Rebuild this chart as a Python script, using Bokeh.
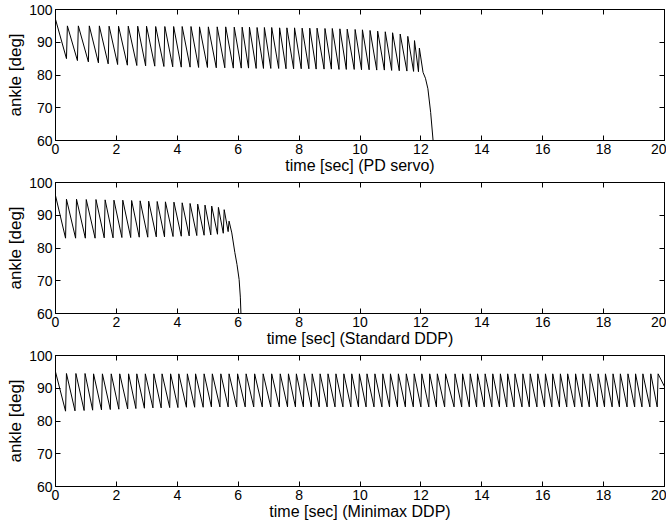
from bokeh.plotting import figure
from bokeh.models import LinearAxis, Range1d, FixedTicker
from bokeh.layouts import column
from bokeh.embed import file_html
from bokeh.resources import INLINE

# ---------------- data ----------------
X_TICKS = [0, 2, 4, 6, 8, 10, 12, 14, 16, 18, 20]
Y_TICKS = [60, 70, 80, 90, 100]
RISE = 0.03  # duration of the quick upward stroke of each cycle [sec]

# Panel 1: PD servo
P1_START_Y = 97.0
P1_TROUGH_T = [0.36, 0.72, 1.08, 1.41, 1.73, 2.04, 2.36, 2.67, 2.96, 3.26,
               3.56, 3.85, 4.13, 4.42, 4.70, 4.99, 5.28, 5.56, 5.84, 6.10,
               6.34, 6.59, 6.83, 7.07, 7.33, 7.57, 7.82, 8.07, 8.32, 8.56,
               8.82, 9.06, 9.31, 9.55, 9.81, 10.05, 10.30, 10.55, 10.80, 11.04,
               11.29, 11.54, 11.76, 11.92, 12.07]
P1_TROUGH_Y = [85.0, 84.4, 84.0, 83.7, 83.4, 83.2, 83.0, 82.9, 82.8, 82.7,
               82.6, 82.5, 82.4, 82.4, 82.3, 82.3, 82.2, 82.2, 82.1, 82.1,
               82.1, 82.0, 82.0, 82.0, 82.0, 81.9, 81.9, 81.9, 81.9, 81.8,
               81.8, 81.8, 81.7, 81.7, 81.7, 81.6, 81.6, 81.5, 81.5, 81.4,
               81.3, 81.2, 81.1, 81.0, 80.8]
P1_PEAK_Y = [95.0, 95.0, 95.0, 95.0, 94.9, 94.9, 94.9, 94.9, 94.9, 94.8,
             94.8, 94.8, 94.8, 94.8, 94.7, 94.7, 94.7, 94.7, 94.6, 94.6,
             94.6, 94.5, 94.5, 94.5, 94.4, 94.4, 94.4, 94.3, 94.3, 94.3,
             94.2, 94.2, 94.1, 94.0, 93.9, 93.8, 93.6, 93.4, 93.2, 92.9,
             92.5, 91.8, 90.5, 88.2]
P1_FALL_T = [12.15, 12.23, 12.32, 12.40, 12.46]
P1_FALL_Y = [79.0, 75.8, 68.6, 60.0, 54.0]

# Panel 2: Standard DDP
P2_START_Y = 96.0
P2_TROUGH_T = [0.33, 0.66, 0.98, 1.30, 1.60, 1.89, 2.18, 2.47, 2.75, 3.03,
               3.31, 3.58, 3.86, 4.13, 4.39, 4.64, 4.88, 5.10, 5.32, 5.51,
               5.67]
P2_TROUGH_Y = [83.0, 83.0, 83.0, 83.0, 83.1, 83.1, 83.2, 83.2, 83.3, 83.3,
               83.4, 83.4, 83.5, 83.6, 83.7, 83.8, 83.9, 84.0, 84.2, 84.5,
               85.0]
P2_PEAK_Y = [94.9, 94.9, 94.8, 94.8, 94.7, 94.6, 94.6, 94.5, 94.4, 94.3,
             94.2, 94.1, 94.0, 93.8, 93.6, 93.4, 93.1, 92.8, 92.4, 91.7,
             88.2]
P2_FALL_T = [5.79, 5.89, 5.96, 6.03, 6.07, 6.09, 6.11]
P2_FALL_Y = [84.6, 78.6, 75.0, 70.4, 65.0, 60.0, 55.0]

# Panel 3: Minimax DDP
P3_START_Y = 95.0
P3_TROUGH_T = [0.33, 0.64, 0.94, 1.22, 1.51, 1.80, 2.08, 2.37, 2.64, 2.92,
               3.20, 3.47, 3.75, 4.02, 4.30, 4.57, 4.85, 5.12, 5.40, 5.67,
               5.95, 6.23, 6.51, 6.79, 7.07, 7.35, 7.62, 7.88, 8.14, 8.40,
               8.66, 8.92, 9.18, 9.44, 9.70, 9.95, 10.20, 10.46, 10.72, 10.97,
               11.23, 11.49, 11.75, 12.00, 12.26, 12.51, 12.78, 13.09, 13.34, 13.59,
               13.83, 14.08, 14.33, 14.58, 14.82, 15.06, 15.32, 15.56, 15.81, 16.06,
               16.30, 16.55, 16.79, 17.05, 17.29, 17.53, 17.79, 18.03, 18.28, 18.52,
               18.77, 19.02, 19.26, 19.52, 19.76]
P3_TROUGH_Y = [83.0, 83.1, 83.2, 83.3, 83.4, 83.5, 83.6, 83.7, 83.8, 83.9,
               84.0, 84.0, 84.1, 84.1, 84.2, 84.2, 84.2, 84.3, 84.3, 84.3,
               84.3, 84.3, 84.3, 84.3, 84.3, 84.3, 84.3, 84.3, 84.3, 84.3,
               84.3, 84.3, 84.3, 84.3, 84.3, 84.3, 84.3, 84.3, 84.3, 84.3,
               84.3, 84.3, 84.3, 84.3, 84.3, 84.3, 84.3, 84.3, 84.3, 84.3,
               84.3, 84.3, 84.3, 84.3, 84.3, 84.3, 84.3, 84.3, 84.3, 84.3,
               84.3, 84.3, 84.3, 84.3, 84.3, 84.3, 84.3, 84.3, 84.3, 84.3,
               84.3, 84.3, 84.3, 84.3, 84.3]
P3_PEAK_Y = [94.5, 94.5, 94.5, 94.4, 94.4, 94.4, 94.4, 94.4, 94.4, 94.4,
             94.4, 94.4, 94.4, 94.4, 94.4, 94.4, 94.4, 94.4, 94.4, 94.4,
             94.4, 94.4, 94.4, 94.4, 94.4, 94.4, 94.4, 94.4, 94.4, 94.4,
             94.4, 94.4, 94.4, 94.4, 94.4, 94.4, 94.4, 94.4, 94.4, 94.4,
             94.4, 94.4, 94.4, 94.4, 94.4, 94.4, 94.4, 94.4, 94.4, 94.4,
             94.4, 94.4, 94.4, 94.4, 94.4, 94.4, 94.4, 94.4, 94.4, 94.4,
             94.4, 94.4, 94.4, 94.4, 94.4, 94.4, 94.4, 94.4, 94.4, 94.4,
             94.4, 94.4, 94.4, 94.4, 94.4]
P3_END_T = [20.0]
P3_END_Y = [90.5]

X_LABELS = ["time [sec] (PD servo)", "time [sec] (Standard DDP)",
            "time [sec] (Minimax DDP)"]
Y_LABEL = "ankle [deg]"

FONT = "Liberation Sans"


def build_series(start_y, trough_t, trough_y, peak_y, tail_t, tail_y):
    xs, ys = [0.0], [start_y]
    for i, t in enumerate(trough_t):
        xs.append(t)
        ys.append(trough_y[i])
        if i < len(peak_y):
            xs.append(t + RISE)
            ys.append(peak_y[i])
    xs += tail_t
    ys += tail_y
    return xs, ys


def style_axis(ax, ticks, labels=True):
    ax.ticker = FixedTicker(ticks=ticks)
    ax.axis_line_color = "black"
    ax.major_tick_line_color = "black"
    ax.major_tick_in = 5
    ax.major_tick_out = 0
    ax.minor_tick_line_color = None
    ax.major_label_text_font = FONT
    ax.major_label_text_font_size = "14px"
    ax.major_label_text_color = "black"
    ax.axis_label_text_font = FONT
    ax.axis_label_text_font_size = "16px"
    ax.axis_label_text_font_style = "normal"
    ax.axis_label_text_color = "black"
    if not labels:
        ax.major_label_overrides = {t: "" for t in ticks}
        ax.major_label_standoff = 0


def make_panel(xs, ys, xlabel, top_b, plot_h, bot_b):
    p = figure(width=666, height=top_b + plot_h + bot_b,
               x_range=Range1d(0, 20), y_range=Range1d(60, 100),
               output_backend="svg", toolbar_location=None,
               min_border_left=55, min_border_right=2,
               min_border_top=top_b, min_border_bottom=bot_b)
    p.grid.visible = False
    p.outline_line_color = "black"
    p.background_fill_color = "white"
    p.border_fill_color = "white"

    style_axis(p.xaxis[0], X_TICKS)
    style_axis(p.yaxis[0], Y_TICKS)
    p.xaxis.axis_label = xlabel
    p.xaxis.major_label_standoff = 3
    p.xaxis.axis_label_standoff = 0
    p.yaxis.axis_label = Y_LABEL
    p.yaxis.axis_label_text_font_size = "17px"
    p.yaxis.major_label_standoff = 3
    p.yaxis.axis_label_standoff = 1

    top = LinearAxis()
    right = LinearAxis()
    style_axis(top, X_TICKS, labels=False)
    style_axis(right, Y_TICKS, labels=False)
    p.add_layout(top, "above")
    p.add_layout(right, "right")

    p.line(xs, ys, line_color="black", line_width=1)
    return p


x1, y1 = build_series(P1_START_Y, P1_TROUGH_T, P1_TROUGH_Y, P1_PEAK_Y, P1_FALL_T, P1_FALL_Y)
x2, y2 = build_series(P2_START_Y, P2_TROUGH_T, P2_TROUGH_Y, P2_PEAK_Y, P2_FALL_T, P2_FALL_Y)
x3, y3 = build_series(P3_START_Y, P3_TROUGH_T, P3_TROUGH_Y, P3_PEAK_Y, P3_END_T, P3_END_Y)

p1 = make_panel(x1, y1, X_LABELS[0], 9, 131, 36)
p2 = make_panel(x2, y2, X_LABELS[1], 6, 131, 36)
p3 = make_panel(x3, y3, X_LABELS[2], 6, 131, 36)

layout = column(p1, p2, p3, spacing=0)

open("out.html", "w").write(file_html(layout, INLINE))
